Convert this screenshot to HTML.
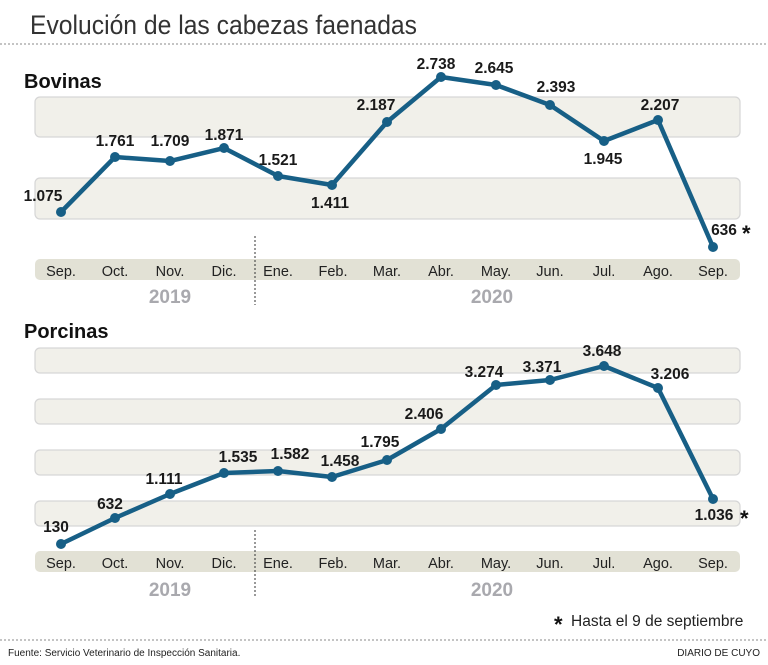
<!DOCTYPE html>
<html><head><meta charset="utf-8"><style>
body{margin:0;background:#fff;}
svg{display:block;font-family:"Liberation Sans",sans-serif;}
.v{font-weight:bold;font-size:15.5px;fill:#1a1a1a;text-anchor:middle;}
.m{font-size:14.5px;fill:#222;text-anchor:middle;}
.y{font-weight:bold;font-size:19px;fill:#a9a9ae;text-anchor:middle;}
.band{fill:#f1f0ea;stroke:#d6d6d6;stroke-width:1.2;}
.mb{fill:#e2e1d5;}
.ln{fill:none;stroke:#175f86;stroke-width:4.5;stroke-linejoin:round;}
circle{fill:#175f86;}
</style></head><body>
<svg width="768" height="665" viewBox="0 0 768 665">
<text x="30" y="34" font-size="27" fill="#333" textLength="387" lengthAdjust="spacingAndGlyphs">Evolución de las cabezas faenadas</text>
<line x1="0" y1="44" x2="768" y2="44" stroke="#888" stroke-dasharray="2,2"/>
<text x="24" y="88" font-size="20" font-weight="bold" fill="#111">Bovinas</text>
<rect class="band" x="35" y="97" width="705" height="40" rx="5"/>
<rect class="band" x="35" y="178" width="705" height="41" rx="5"/>
<rect class="mb" x="35" y="259" width="705" height="21" rx="5"/>
<line x1="255" y1="236" x2="255" y2="305" stroke="#333" stroke-dasharray="2,2"/>
<g class="m"><text x="61" y="276">Sep.</text><text x="115" y="276">Oct.</text><text x="170" y="276">Nov.</text><text x="224" y="276">Dic.</text><text x="278" y="276">Ene.</text><text x="333" y="276">Feb.</text><text x="387" y="276">Mar.</text><text x="441" y="276">Abr.</text><text x="496" y="276">May.</text><text x="550" y="276">Jun.</text><text x="604" y="276">Jul.</text><text x="658" y="276">Ago.</text><text x="713" y="276">Sep.</text></g>
<text class="y" x="170" y="303">2019</text><text class="y" x="492" y="303">2020</text>
<polyline class="ln" points="61,212 115,157 170,161 224,148 278,176 332,185 387,122 441,77 496,85 550,105 604,141 658,120 713,247"/>
<g><circle cx="61" cy="212" r="5"/><circle cx="115" cy="157" r="5"/><circle cx="170" cy="161" r="5"/><circle cx="224" cy="148" r="5"/><circle cx="278" cy="176" r="5"/><circle cx="332" cy="185" r="5"/><circle cx="387" cy="122" r="5"/><circle cx="441" cy="77" r="5"/><circle cx="496" cy="85" r="5"/><circle cx="550" cy="105" r="5"/><circle cx="604" cy="141" r="5"/><circle cx="658" cy="120" r="5"/><circle cx="713" cy="247" r="5"/></g>
<g class="v"><text x="43" y="201">1.075</text><text x="115" y="146">1.761</text><text x="170" y="146">1.709</text><text x="224" y="140">1.871</text><text x="278" y="165">1.521</text><text x="330" y="208">1.411</text><text x="376" y="110">2.187</text><text x="436" y="69">2.738</text><text x="494" y="73">2.645</text><text x="556" y="92">2.393</text><text x="603" y="164">1.945</text><text x="660" y="110">2.207</text><text x="724" y="235">636</text></g>
<text x="742" y="241" font-size="22" font-weight="bold" fill="#111">*</text>
<text x="24" y="338" font-size="20" font-weight="bold" fill="#111">Porcinas</text>
<rect class="band" x="35" y="348" width="705" height="25" rx="5"/>
<rect class="band" x="35" y="399" width="705" height="25" rx="5"/>
<rect class="band" x="35" y="450" width="705" height="25" rx="5"/>
<rect class="band" x="35" y="501" width="705" height="25" rx="5"/>
<rect class="mb" x="35" y="551" width="705" height="21" rx="5"/>
<line x1="255" y1="530" x2="255" y2="596" stroke="#333" stroke-dasharray="2,2"/>
<g class="m"><text x="61" y="568">Sep.</text><text x="115" y="568">Oct.</text><text x="170" y="568">Nov.</text><text x="224" y="568">Dic.</text><text x="278" y="568">Ene.</text><text x="333" y="568">Feb.</text><text x="387" y="568">Mar.</text><text x="441" y="568">Abr.</text><text x="496" y="568">May.</text><text x="550" y="568">Jun.</text><text x="604" y="568">Jul.</text><text x="658" y="568">Ago.</text><text x="713" y="568">Sep.</text></g>
<text class="y" x="170" y="596">2019</text><text class="y" x="492" y="596">2020</text>
<polyline class="ln" points="61,544 115,518 170,494 224,473 278,471 332,477 387,460 441,429 496,385 550,380 604,366 658,388 713,499"/>
<g><circle cx="61" cy="544" r="5"/><circle cx="115" cy="518" r="5"/><circle cx="170" cy="494" r="5"/><circle cx="224" cy="473" r="5"/><circle cx="278" cy="471" r="5"/><circle cx="332" cy="477" r="5"/><circle cx="387" cy="460" r="5"/><circle cx="441" cy="429" r="5"/><circle cx="496" cy="385" r="5"/><circle cx="550" cy="380" r="5"/><circle cx="604" cy="366" r="5"/><circle cx="658" cy="388" r="5"/><circle cx="713" cy="499" r="5"/></g>
<g class="v"><text x="56" y="532">130</text><text x="110" y="509">632</text><text x="164" y="484">1.111</text><text x="238" y="462">1.535</text><text x="290" y="459">1.582</text><text x="340" y="466">1.458</text><text x="380" y="447">1.795</text><text x="424" y="419">2.406</text><text x="484" y="377">3.274</text><text x="542" y="372">3.371</text><text x="602" y="356">3.648</text><text x="670" y="379">3.206</text><text x="714" y="520">1.036</text></g>
<text x="740" y="526" font-size="22" font-weight="bold" fill="#111">*</text>
<text x="554" y="632" font-size="22" font-weight="bold" fill="#111">*</text>
<text x="571" y="626" font-size="15.5" fill="#222">Hasta el 9 de septiembre</text>
<line x1="0" y1="640" x2="768" y2="640" stroke="#888" stroke-dasharray="2,2"/>
<text x="8" y="656" font-size="10" fill="#222">Fuente: Servicio Veterinario de Inspección Sanitaria.</text>
<text x="760" y="656" font-size="10" fill="#222" text-anchor="end">DIARIO DE CUYO</text>
</svg>
</body></html>
